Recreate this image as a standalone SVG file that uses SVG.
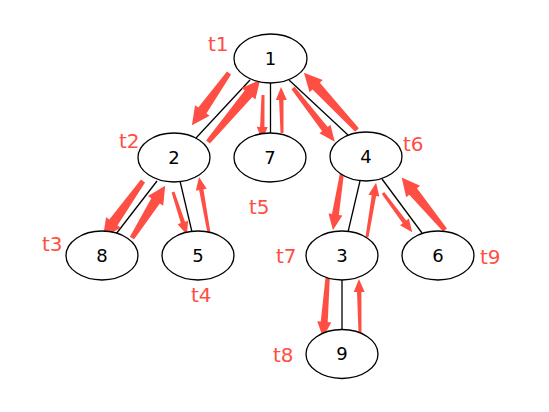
<svg xmlns="http://www.w3.org/2000/svg" width="549" height="412" viewBox="0 0 549 412">
<style>
.node ellipse{fill:#fff;stroke:#000;stroke-width:1.3}
.node text{font-family:"DejaVu Sans",sans-serif;font-size:18px;fill:#000;text-anchor:middle}
.edge{stroke:#000;stroke-width:1.3;fill:none}
.arr{fill:#ff4f45;stroke:none}
.lbl{font-family:"DejaVu Sans",sans-serif;font-size:20px;fill:#ff4f45}
</style>
<rect width="549" height="412" fill="#fff"/>
<g id="edges">
<line class="edge" x1="250" y1="80" x2="196" y2="138"/>
<line class="edge" x1="270.5" y1="83" x2="270.5" y2="133"/>
<line class="edge" x1="289" y1="80" x2="348" y2="135"/>
<line class="edge" x1="157" y1="181" x2="116" y2="234"/>
<line class="edge" x1="180" y1="181" x2="192" y2="232"/>
<line class="edge" x1="360" y1="181" x2="348" y2="232"/>
<line class="edge" x1="382" y1="179" x2="422" y2="233"/>
<line class="edge" x1="342" y1="279" x2="342" y2="330"/>
</g>
<g id="arrows">
<path class="arr" transform="translate(229,73) rotate(125.4)" d="M0,-2.5L46,-5L46,-9L64,0L46,9L46,5L0,2.5Z"/>
<path class="arr" transform="translate(208,142) rotate(-50)" d="M0,-2.5L63,-5L63,-9L81,0L63,9L63,5L0,2.5Z"/>
<path class="arr" transform="translate(263,95) rotate(91.3)" d="M0,-1.5L32,-2.2L32,-5.5L45,0L32,5.5L32,2.2L0,1.5Z"/>
<path class="arr" transform="translate(282,133) rotate(-91.2)" d="M0,-1.5L33,-2.2L33,-5.5L46,0L33,5.5L33,2.2L0,1.5Z"/>
<path class="arr" transform="translate(293,88) rotate(52.1)" d="M0,-2L52,-3.5L52,-7L68,0L52,7L52,3.5L0,2Z"/>
<path class="arr" transform="translate(357,130) rotate(-132.9)" d="M0,-2.5L60,-5L60,-9L78,0L60,9L60,5L0,2.5Z"/>
<path class="arr" transform="translate(143,181) rotate(125.5)" d="M0,-2.5L51,-5L51,-9L69,0L51,9L51,5L0,2.5Z"/>
<path class="arr" transform="translate(132,238) rotate(-57.6)" d="M0,-2.5L44,-5L44,-9L62,0L44,9L44,5L0,2.5Z"/>
<path class="arr" transform="translate(173,192) rotate(72)" d="M0,-1.5L32,-2.2L32,-5.5L45,0L32,5.5L32,2.2L0,1.5Z"/>
<path class="arr" transform="translate(209,233) rotate(-100.1)" d="M0,-1.5L44,-2.2L44,-5.5L57,0L44,5.5L44,2.2L0,1.5Z"/>
<path class="arr" transform="translate(342,173) rotate(99)" d="M0,-2L42,-3.5L42,-7L58,0L42,7L42,3.5L0,2Z"/>
<path class="arr" transform="translate(367,237) rotate(-80.5)" d="M0,-1.5L42,-2.2L42,-5.5L55,0L42,5.5L42,2.2L0,1.5Z"/>
<path class="arr" transform="translate(383,193) rotate(53.4)" d="M0,-1.5L36,-2.2L36,-5.5L49,0L36,5.5L36,2.2L0,1.5Z"/>
<path class="arr" transform="translate(445,230) rotate(-129.6)" d="M0,-2.5L50,-5L50,-9L68,0L50,9L50,5L0,2.5Z"/>
<path class="arr" transform="translate(328,273) rotate(94.4)" d="M0,-2L49,-3.5L49,-7L65,0L49,7L49,3.5L0,2Z"/>
<path class="arr" transform="translate(360,333) rotate(-91.1)" d="M0,-1.5L41,-2.2L41,-5.5L54,0L41,5.5L41,2.2L0,1.5Z"/>
</g>
<g id="n1" class="node"><ellipse cx="270.5" cy="58.5" rx="36.5" ry="24.5"/><text x="270.5" y="64.5">1</text></g>
<g id="n2" class="node"><ellipse cx="174" cy="157.5" rx="36" ry="24.5"/><text x="174" y="163.5">2</text></g>
<g id="n7" class="node"><ellipse cx="270" cy="157.5" rx="36" ry="24.5"/><text x="270" y="163.5">7</text></g>
<g id="n4" class="node"><ellipse cx="366" cy="156.5" rx="36" ry="24.5"/><text x="366" y="162.5">4</text></g>
<g id="n8" class="node"><ellipse cx="102" cy="255.5" rx="36" ry="24.5"/><text x="102" y="261.5">8</text></g>
<g id="n5" class="node"><ellipse cx="198" cy="255.5" rx="36" ry="24.5"/><text x="198" y="261.5">5</text></g>
<g id="n3" class="node"><ellipse cx="342" cy="255.5" rx="36" ry="24.5"/><text x="342" y="261.5">3</text></g>
<g id="n6" class="node"><ellipse cx="438" cy="255.5" rx="36" ry="24.5"/><text x="438" y="261.5">6</text></g>
<g id="n9" class="node"><ellipse cx="342" cy="354" rx="36" ry="24.5"/><text x="342" y="360">9</text></g>
<g id="labels">
<text class="lbl" x="208" y="51">t1</text>
<text class="lbl" x="119" y="148">t2</text>
<text class="lbl" x="42" y="251">t3</text>
<text class="lbl" x="191" y="302">t4</text>
<text class="lbl" x="249" y="214">t5</text>
<text class="lbl" x="403" y="151">t6</text>
<text class="lbl" x="276" y="263">t7</text>
<text class="lbl" x="273" y="362">t8</text>
<text class="lbl" x="480" y="264">t9</text>
</g>
</svg>
